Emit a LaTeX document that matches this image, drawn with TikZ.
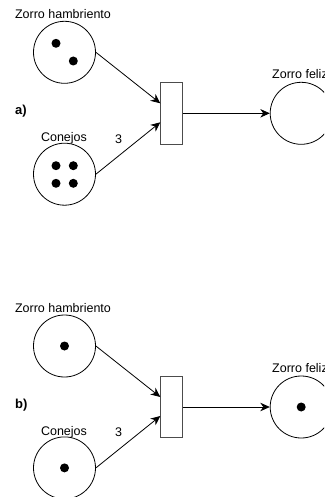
\documentclass[tikz,border=0pt]{standalone}
\usepackage{fontspec}
\setmainfont{Liberation Sans}
\usetikzlibrary{arrows.meta}
\tikzset{
  place/.style={draw, circle, minimum size=62pt, inner sep=0pt, line width=0.8pt},
  trans/.style={draw=black!70, rectangle, minimum width=22pt, minimum height=61.3pt, inner sep=0pt, line width=0.8pt},
  arc/.style={draw, line width=0.8pt, -{Stealth[length=9.5pt,width=8.5pt,inset=3pt]}},
  lbl/.style={font=\fontsize{12.5}{15}\selectfont, inner sep=0pt},
  tag/.style={font=\fontsize{13}{15}\selectfont\bfseries, inner sep=0pt},
  token/.style={fill=black}
}
\begin{document}
\begin{tikzpicture}[x=1pt,y=-1pt]
\useasboundingbox (0,0) rectangle (324,497);
\clip (0,0) rectangle (324,497);
% ---------- a) ----------
\begin{scope}
  \node[place] (zh1) at (64.5,52.3) {};
  \node[place] (co1) at (64.5,174.2) {};
  \node[trans] (t1) at (171.7,113.3) {};
  \node[place] (zf1) at (301.2,113.3) {};
  \node[lbl, anchor=base] (lzh1) at (63,18.3) {Zorro hambriento};
  \node[lbl, anchor=base] (lco1) at (64,141.7) {Conejos};
  \node[lbl, anchor=base west] (lzf1) at (272,78.3) {Zorro feliz};
  \node[lbl, anchor=base] (w1) at (118.5,143) {3};
  \node[tag, anchor=base west] (a1) at (15,114.5) {a)};
  \fill[token] ([xshift=-8.5pt,yshift=9pt]zh1.center) circle (4.5pt);
  \fill[token] ([xshift=8.8pt,yshift=-8.7pt]zh1.center) circle (4.5pt);
  \fill[token] ([xshift=-8.5pt,yshift=8.5pt]co1.center) circle (4.5pt);
  \fill[token] ([xshift=8.8pt,yshift=8.5pt]co1.center) circle (4.5pt);
  \fill[token] ([xshift=-8.5pt,yshift=-9.1pt]co1.center) circle (4.5pt);
  \fill[token] ([xshift=8.8pt,yshift=-9.1pt]co1.center) circle (4.5pt);
  \draw[arc] (zh1.east) -- ([yshift=10pt]t1.west);
  \draw[arc] (co1.east) -- ([yshift=-9pt]t1.west);
  \draw[arc] (t1.east) -- (zf1.west);
\end{scope}
% ---------- b) ----------
\begin{scope}[yshift=-293.7pt]
  \node[place] (zh2) at (64.5,52.3) {};
  \node[place] (co2) at (64.5,174.2) {};
  \node[trans] (t2) at (171.7,113.3) {};
  \node[place] (zf2) at (301.2,113.3) {};
  \node[lbl, anchor=base] (lzh2) at (63,18.3) {Zorro hambriento};
  \node[lbl, anchor=base] (lco2) at (64,141.7) {Conejos};
  \node[lbl, anchor=base west] (lzf2) at (272,78.3) {Zorro feliz};
  \node[lbl, anchor=base] (w2) at (118.5,143) {3};
  \node[tag, anchor=base west] (b2) at (15,114.5) {b)};
  \fill[token] (zh2.center) circle (4.5pt);
  \fill[token] (co2.center) circle (4.5pt);
  \fill[token] (zf2.center) circle (4.5pt);
  \draw[arc] (zh2.east) -- ([yshift=10pt]t2.west);
  \draw[arc] (co2.east) -- ([yshift=-9pt]t2.west);
  \draw[arc] (t2.east) -- (zf2.west);
\end{scope}
\end{tikzpicture}
\end{document}
